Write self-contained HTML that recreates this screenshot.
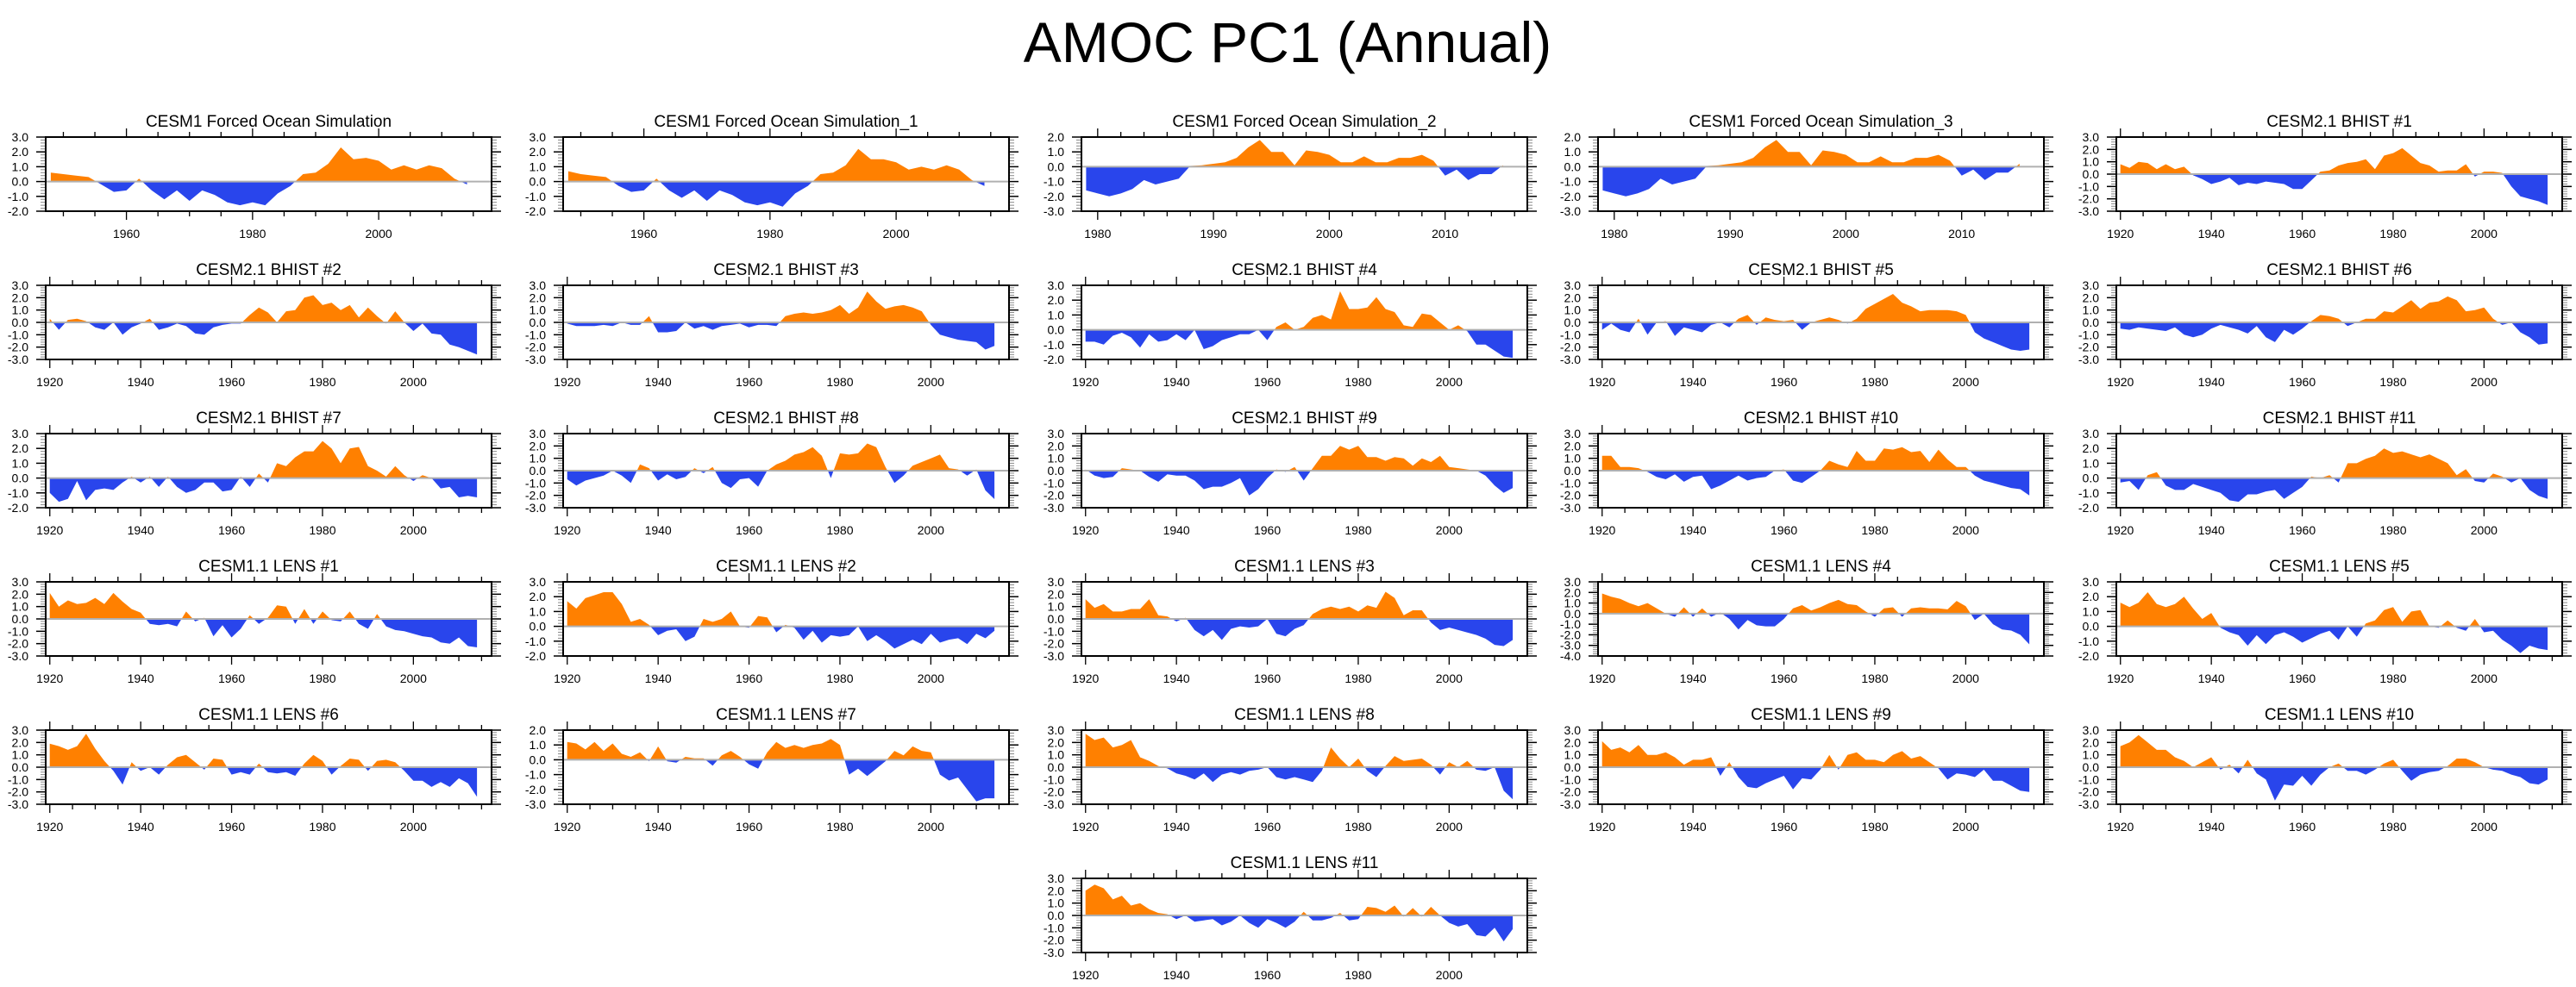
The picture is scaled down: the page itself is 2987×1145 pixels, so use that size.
<!DOCTYPE html>
<html><head><meta charset="utf-8"><style>
html,body{margin:0;padding:0;background:#fff;}
svg{display:block;font-family:"Liberation Sans",Arial,sans-serif;}
</style></head><body>
<svg id="chart" width="2987" height="1145" viewBox="0 0 2987 1145" xmlns="http://www.w3.org/2000/svg">
<rect width="2987" height="1145" fill="#fff"/>
<text x="1493" y="72" font-size="66" text-anchor="middle">AMOC PC1 (Annual)</text>
</svg>
<script>
const panelTitles = ["CESM1 Forced Ocean Simulation","CESM1 Forced Ocean Simulation_1","CESM1 Forced Ocean Simulation_2","CESM1 Forced Ocean Simulation_3","CESM2.1 BHIST #1",
"CESM2.1 BHIST #2","CESM2.1 BHIST #3","CESM2.1 BHIST #4","CESM2.1 BHIST #5","CESM2.1 BHIST #6",
"CESM2.1 BHIST #7","CESM2.1 BHIST #8","CESM2.1 BHIST #9","CESM2.1 BHIST #10","CESM2.1 BHIST #11",
"CESM1.1 LENS #1","CESM1.1 LENS #2","CESM1.1 LENS #3","CESM1.1 LENS #4","CESM1.1 LENS #5",
"CESM1.1 LENS #6","CESM1.1 LENS #7","CESM1.1 LENS #8","CESM1.1 LENS #9","CESM1.1 LENS #10",
"CESM1.1 LENS #11"];
const startYears = [1948,1948,1979,1979,1920, 1920,1920,1920,1920,1920, 1920,1920,1920,1920,1920, 1920,1920,1920,1920,1920, 1920,1920,1920,1920,1920, 1920];
const yearSteps  = [2,2,1,1,2, 2,2,2,2,2, 2,2,2,2,2, 2,2,2,2,2, 2,2,2,2,2, 2];
const yMins = [-2,-2,-3,-3,-3, -3,-3,-2,-3,-3, -2,-3,-3,-3,-2, -3,-2,-3,-4,-2, -3,-3,-3,-3,-3, -3];
const yMaxs = [3,3,2,2,3, 3,3,3,3,3, 3,3,3,3,3, 3,3,3,3,3, 3,2,3,3,3, 3];
const s01 = [0.6,0.5,0.4,0.3,-0.2,-0.7,-0.6,0.2,-0.6,-1.2,-0.6,-1.3,-0.6,-0.9,-1.4,-1.6,-1.4,-1.6,-0.8,-0.3,0.5,0.6,1.2,2.3,1.5,1.6,1.4,0.8,1.1,0.8,1.1,0.9,0.2,-0.2];
const s02 = [0.7,0.5,0.4,0.3,-0.3,-0.7,-0.6,0.2,-0.6,-1.1,-0.6,-1.3,-0.6,-0.9,-1.4,-1.6,-1.4,-1.7,-0.8,-0.3,0.5,0.6,1.1,2.2,1.5,1.5,1.3,0.8,1.0,0.8,1.1,0.8,0.1,-0.3];
const s03 = [-1.6,-1.8,-2.0,-1.8,-1.5,-0.9,-1.2,-1.0,-0.8,0.05,0.1,0.2,0.3,0.6,1.3,1.8,1.0,1.0,0.1,1.1,1.0,0.8,0.3,0.3,0.7,0.3,0.3,0.6,0.6,0.8,0.4,-0.6,-0.2,-0.9,-0.5,-0.5,0.1];
const s04 = [-1.6,-1.8,-2.0,-1.8,-1.5,-0.8,-1.2,-1.0,-0.8,0.05,0.1,0.2,0.3,0.6,1.3,1.8,1.0,1.0,0.1,1.1,1.0,0.8,0.3,0.3,0.7,0.3,0.3,0.6,0.6,0.8,0.4,-0.6,-0.2,-0.9,-0.4,-0.4,0.2];
const s05 = [0.8,0.5,1.0,0.9,0.4,0.8,0.4,0.6,-0.1,-0.4,-0.8,-0.6,-0.3,-0.9,-0.7,-0.8,-0.6,-0.7,-0.8,-1.2,-1.2,-0.5,0.2,0.3,0.7,0.9,1.0,1.2,0.4,1.5,1.7,2.1,1.5,0.9,0.7,0.2,0.3,0.3,0.8,-0.2,0.2,0.2,0.1,-1.0,-1.8,-2.0,-2.2,-2.5];
const s06 = [0.3,-0.6,0.2,0.3,0.1,-0.4,-0.6,0.0,-1.0,-0.4,-0.1,0.3,-0.6,-0.4,-0.1,-0.3,-0.9,-1.0,-0.4,-0.2,-0.1,-0.1,0.6,1.2,0.8,0.0,0.9,1.0,2.0,2.2,1.4,1.6,1.0,1.4,0.4,1.2,0.5,-0.1,0.9,0.0,-0.7,-0.1,-0.9,-1.0,-1.8,-2.0,-2.3,-2.6];
const s07 = [-0.1,-0.3,-0.3,-0.3,-0.2,-0.3,0.0,-0.2,-0.2,0.5,-0.8,-0.8,-0.7,0.0,-0.5,-0.3,-0.6,-0.3,-0.2,-0.1,-0.4,-0.2,-0.2,-0.3,0.5,0.7,0.8,0.7,0.8,1.0,1.4,0.7,1.2,2.5,1.7,1.1,1.3,1.4,1.2,0.9,-0.2,-1.0,-1.2,-1.4,-1.5,-1.6,-2.2,-1.9];
const s08 = [-0.8,-0.8,-1.0,-0.4,-0.2,-0.5,-1.2,-0.3,-0.8,-0.7,-0.3,-0.7,0.0,-1.3,-1.1,-0.7,-0.5,-0.3,-0.3,0.0,-0.7,0.2,0.5,0.0,0.2,0.8,1.0,0.7,2.6,1.4,1.4,1.5,2.2,1.4,1.2,0.3,0.2,1.1,1.0,0.5,0.0,0.3,-0.1,-1.0,-1.0,-1.4,-1.8,-1.9];
const s09 = [-0.6,-0.1,-0.6,-0.8,0.3,-1.0,0.0,0.1,-1.1,-0.4,-0.6,-0.8,-0.2,0.0,-0.4,0.3,0.6,-0.2,0.4,0.2,0.1,0.2,-0.6,0.0,0.2,0.4,0.2,-0.1,0.3,1.1,1.5,1.9,2.3,1.6,1.3,0.9,1.0,1.0,1.0,0.9,0.6,-0.8,-1.3,-1.6,-1.9,-2.2,-2.3,-2.2];
const s10 = [-0.5,-0.6,-0.4,-0.5,-0.6,-0.7,-0.4,-1.0,-1.2,-1.0,-0.5,-0.2,-0.4,-0.6,-0.9,-0.3,-1.2,-1.6,-0.6,-1.0,-0.5,0.1,0.6,0.5,0.3,-0.3,0.0,0.3,0.3,0.9,0.8,1.3,1.8,1.1,1.6,1.7,2.1,1.8,0.9,1.0,1.2,0.3,-0.2,0.0,-0.8,-1.2,-1.8,-1.7];
const s11 = [-1.0,-1.6,-1.4,-0.2,-1.5,-0.8,-0.7,-0.8,-0.3,0.1,-0.3,0.1,-0.6,0.1,-0.6,-1.0,-0.8,-0.3,-0.3,-0.9,-0.8,0.1,-0.6,0.3,-0.3,1.0,0.8,1.4,1.8,1.8,2.5,2.0,1.0,2.0,2.1,0.8,0.5,0.1,0.8,0.2,-0.2,0.2,0.0,-0.7,-0.6,-1.3,-1.2,-1.3];
const s12 = [-0.7,-1.2,-0.8,-0.6,-0.4,0.0,-0.4,-1.0,0.5,0.2,-0.8,-0.3,-0.7,-0.5,0.2,-0.2,0.3,-1.0,-1.4,-0.7,-0.6,-1.3,0.0,0.5,0.8,1.3,1.5,1.9,1.2,-0.6,1.4,1.3,1.4,2.2,1.9,0.3,-1.0,-0.4,0.4,0.7,1.0,1.3,0.2,0.1,-0.4,0.1,-1.6,-2.3];
const s13 = [0.1,-0.4,-0.6,-0.5,0.2,0.1,0.0,-0.5,-0.9,-0.3,-0.4,-0.4,-0.8,-1.5,-1.3,-1.3,-1.0,-0.6,-2.0,-1.5,-0.6,0.1,-0.1,0.3,-0.8,0.2,1.2,1.2,2.0,1.7,2.0,1.1,1.1,0.8,1.1,1.0,0.4,1.0,0.7,1.2,0.3,0.2,0.1,0.0,-0.4,-1.2,-1.8,-1.4];
const s14 = [1.2,1.2,0.3,0.3,0.2,-0.1,-0.5,-0.7,-0.3,-0.9,-0.5,-0.4,-1.5,-1.2,-0.8,-0.4,-0.8,-0.6,-0.5,0.0,0.1,-0.8,-1.0,-0.5,0.0,0.8,0.5,0.3,1.6,0.8,0.8,1.8,1.7,1.9,1.5,1.6,0.7,1.7,0.9,0.3,0.3,-0.4,-0.8,-1.0,-1.2,-1.4,-1.5,-2.0];
const s15 = [-0.3,-0.2,-0.8,0.2,0.4,-0.5,-0.8,-0.8,-0.4,-0.6,-0.8,-1.0,-1.5,-1.6,-1.1,-1.1,-0.9,-0.8,-1.4,-1.0,-0.6,0.1,0.0,0.2,-0.3,1.0,1.0,1.3,1.5,2.0,1.7,1.8,1.6,1.4,1.6,1.3,1.0,0.2,0.6,-0.2,-0.3,0.3,0.1,-0.3,0.0,-0.8,-1.2,-1.4];
const s16 = [2.1,1.0,1.5,1.2,1.3,1.7,1.2,2.1,1.4,0.8,0.5,-0.4,-0.5,-0.4,-0.6,0.6,-0.2,0.1,-1.4,-0.5,-1.5,-0.8,0.3,-0.4,0.1,1.1,1.0,-0.4,0.8,-0.4,0.6,-0.1,-0.2,0.6,-0.4,-0.8,0.4,-0.6,-0.9,-1.0,-1.2,-1.4,-1.5,-1.9,-2.0,-1.5,-2.2,-2.3];
const s17 = [1.7,1.2,1.9,2.1,2.3,2.3,1.5,0.3,0.5,0.1,-0.6,-0.3,-0.2,-1.0,-0.7,0.5,0.3,0.5,1.0,0.0,-0.1,0.7,0.6,-0.4,0.1,-0.1,-0.9,-0.3,-1.1,-0.6,-0.7,-0.6,0.0,-1.0,-0.6,-1.0,-1.5,-1.2,-0.9,-1.2,-0.5,-1.1,-0.9,-0.8,-1.2,-0.5,-0.8,-0.3];
const s18 = [1.6,0.9,1.2,0.6,0.6,0.8,0.8,1.6,0.3,0.2,-0.2,0.1,-0.9,-1.4,-0.9,-1.7,-0.8,-0.6,-0.7,-0.6,0.0,-1.2,-1.4,-0.8,-0.5,0.4,0.8,1.0,0.8,1.0,0.6,1.1,0.9,2.2,1.7,0.3,0.7,0.7,-0.3,-0.9,-0.7,-0.9,-1.1,-1.3,-1.6,-2.1,-2.2,-1.7];
const s19 = [1.9,1.6,1.4,1.0,0.7,1.0,0.5,0.0,-0.3,0.6,-0.3,0.5,-0.3,0.1,-0.5,-1.5,-0.6,-1.1,-1.2,-1.2,-0.5,0.5,0.8,0.3,0.6,1.0,1.3,0.9,0.8,0.2,-0.3,0.5,0.6,-0.3,0.5,0.6,0.5,0.5,0.4,1.2,0.7,-0.6,0.0,-1.0,-1.5,-1.6,-2.0,-2.9];
const s20 = [1.6,1.3,1.6,2.3,1.5,1.3,1.5,2.0,1.2,0.5,0.9,-0.1,-0.4,-0.6,-1.3,-0.6,-1.2,-0.6,-0.4,-0.7,-1.1,-0.8,-0.5,-0.3,-0.9,0.0,-0.7,0.2,0.4,1.1,1.3,0.3,1.0,1.1,0.0,-0.1,0.4,-0.1,-0.3,0.5,-0.4,-0.3,-0.9,-1.3,-1.8,-1.3,-1.5,-1.6];
const s21 = [1.9,1.7,1.4,1.7,2.7,1.5,0.5,-0.3,-1.4,0.4,-0.3,0.0,-0.6,0.2,0.8,1.0,0.4,-0.2,0.7,0.6,-0.6,-0.4,-0.6,0.3,-0.4,-0.5,-0.4,-0.7,0.3,1.0,0.5,-0.6,0.1,0.7,0.6,-0.3,0.5,0.6,0.4,-0.3,-1.1,-1.1,-1.6,-1.2,-1.6,-0.9,-1.3,-2.4];
const s22 = [1.2,1.1,0.7,1.2,0.6,1.1,0.4,0.2,0.5,-0.1,0.9,-0.1,-0.2,0.2,0.1,0.1,-0.4,0.3,0.6,0.2,-0.3,-0.6,0.5,1.2,0.8,1.0,0.8,1.0,1.1,1.4,1.0,-1.0,-0.6,-1.1,-0.6,-0.1,0.6,0.3,0.9,0.6,0.5,-1.0,-1.4,-1.2,-2.0,-2.8,-2.6,-2.6];
const s23 = [2.7,2.2,2.4,1.6,1.8,2.2,0.8,0.5,0.1,-0.1,-0.5,-0.7,-1.0,-0.5,-1.2,-0.6,-0.4,-0.6,-0.3,-0.2,0.0,-0.8,-1.0,-0.8,-1.0,-1.2,-0.3,1.6,0.7,0.0,0.7,-0.3,-0.8,0.1,0.9,0.5,0.6,0.7,0.2,-0.6,0.4,0.0,0.5,-0.2,-0.3,0.0,-1.9,-2.6];
const s24 = [2.1,1.4,1.6,1.2,1.8,1.0,1.0,1.2,0.8,0.2,0.6,0.6,0.8,-0.7,0.4,-0.8,-1.6,-1.7,-1.3,-1.0,-0.7,-1.8,-0.9,-1.0,-0.2,1.0,-0.2,1.0,1.2,0.6,0.6,0.4,1.0,1.3,0.7,0.9,0.4,-0.1,-1.0,-0.5,-0.6,-0.8,-0.2,-1.1,-1.1,-1.5,-1.9,-2.0];
const s25 = [1.7,2.0,2.6,2.0,1.4,1.4,0.8,0.5,0.0,0.4,0.8,-0.2,0.2,-0.5,0.6,-0.5,-1.0,-2.7,-1.4,-1.5,-0.7,-1.5,-0.6,0.0,0.3,-0.3,-0.3,-0.6,-0.2,0.3,0.6,-0.3,-1.1,-0.6,-0.4,-0.3,0.1,0.7,0.7,0.4,0.0,-0.2,-0.3,-0.6,-0.8,-1.3,-1.4,-1.0];
const s26 = [2.0,2.5,2.2,1.3,1.6,0.8,1.0,0.5,0.2,0.1,-0.3,0.0,-0.5,-0.4,-0.3,-0.8,-0.5,0.0,-0.6,-1.0,-0.3,-0.6,-1.0,-0.5,0.3,-0.4,-0.4,-0.2,0.2,-0.4,-0.3,0.7,0.6,0.3,0.8,-0.1,0.6,-0.1,0.7,0.0,-0.6,-0.9,-0.7,-1.6,-1.7,-1.0,-2.1,-1.1];
const seriesValues = [s01,s02,s03,s04,s05,s06,s07,s08,s09,s10,s11,s12,s13,s14,s15,s16,s17,s18,s19,s20,s21,s22,s23,s24,s25,s26];
const xDomains = [[1947.2,2017.9],[1947.2,2017.9],[1978.6,2017.1],[1978.6,2017.1]]; // others 1919.1-2017.2
const xMajor = [20,20,10,10];

// ---- layout ----
const NS = "http://www.w3.org/2000/svg";
const svg = document.getElementById('chart');
const colLeft = [53,653,1254,1853,2454];
const PW = 517, PH = 86, TOP0 = 159, ROWP = 172;
function el(tag, attrs, parent){ const e=document.createElementNS(NS,tag); for(const k in attrs) e.setAttribute(k,attrs[k]); (parent||svg).appendChild(e); return e; }
function fmt(v){ return v.toFixed(1); }

seriesValues.forEach((vals, i) => {
  const row = Math.floor(i/5), col = i===25 ? 2 : i%5;
  const x0 = colLeft[col], y0 = TOP0 + row*ROWP;
  const dom = xDomains[i] || [1919.1,2017.2];
  const ymin = yMins[i], ymax = yMaxs[i];
  const xs = yr => x0 + (yr-dom[0])/(dom[1]-dom[0])*PW;
  const ys = v => y0 + (ymax - v)/(ymax-ymin)*PH;
  const g = el('g',{});
  
  
  const t = el('text',{x:x0+PW/2, y:y0-12, 'font-size':19, 'text-anchor':'middle'}, g);
  t.textContent = panelTitles[i];
  
  
  const yz = ys(0);
  let d = `M${xs(startYears[i]).toFixed(1)},${yz.toFixed(1)}`;
  vals.forEach((v,k)=>{ d += ` L${xs(startYears[i]+k*yearSteps[i]).toFixed(1)},${ys(v).toFixed(1)}`; });
  d += ` L${xs(startYears[i]+(vals.length-1)*yearSteps[i]).toFixed(1)},${yz.toFixed(1)} Z`;
  const cpA = el('clipPath',{id:'ca'+i}, g); el('rect',{x:x0,y:y0,width:PW,height:yz-y0},cpA);
  const cpB = el('clipPath',{id:'cb'+i}, g); el('rect',{x:x0,y:yz,width:PW,height:y0+PH-yz},cpB);
  const pa = el('path',{d:d, fill:'#ff8000', 'clip-path':`url(#ca${i})`}, g);
  
  
  const pb = el('path',{d:d, fill:'#2945ec', 'clip-path':`url(#cb${i})`}, g);
  
  
  const zl = el('line',{x1:x0,x2:x0+PW,y1:yz,y2:yz,stroke:'#b0b0b0','stroke-width':2}, g);
  
  
  for(let v=ymin; v<=ymax+1e-6; v+=0.2){
    const yy = ys(v), major = Math.abs(v-Math.round(v))<1e-6;
    el('line',{x1:x0-(major?11:6),x2:x0,y1:yy,y2:yy,stroke:major?'#000':'#888','stroke-width':major?1.5:1}, g);
    el('line',{x1:x0+PW,x2:x0+PW+(major?11:6),y1:yy,y2:yy,stroke:major?'#000':'#888','stroke-width':major?1.5:1}, g);
    if(major){
      const lt = el('text',{x:x0-20,y:yy+5,'font-size':14,'text-anchor':'end'}, g);
      lt.textContent = fmt(Math.round(v));
      
      
    }
  }
  const maj = xMajor[i] || 20;
  const minorStep = maj===10 ? 2 : 5;
  for(let yr=Math.ceil(dom[0]/minorStep)*minorStep; yr<=dom[1]; yr+=minorStep){
    const xx = xs(yr), major = yr % maj === 0;
    const L = major?10:6;
    el('line',{x1:xx,x2:xx,y1:y0,y2:y0-L,stroke:'#000','stroke-width':1.3}, g);
    el('line',{x1:xx,x2:xx,y1:y0+PH,y2:y0+PH+L,stroke:'#000','stroke-width':1.3}, g);
    if(major){
      const xt = el('text',{x:xx,y:y0+PH+31,'font-size':14,'text-anchor':'middle'}, g);
      xt.textContent = yr;
      
      
    }
  }
  const fr = el('rect',{x:x0,y:y0,width:PW,height:PH,fill:'none',stroke:'#000','stroke-width':2}, g);
  
  
});
</script>
</body></html>
